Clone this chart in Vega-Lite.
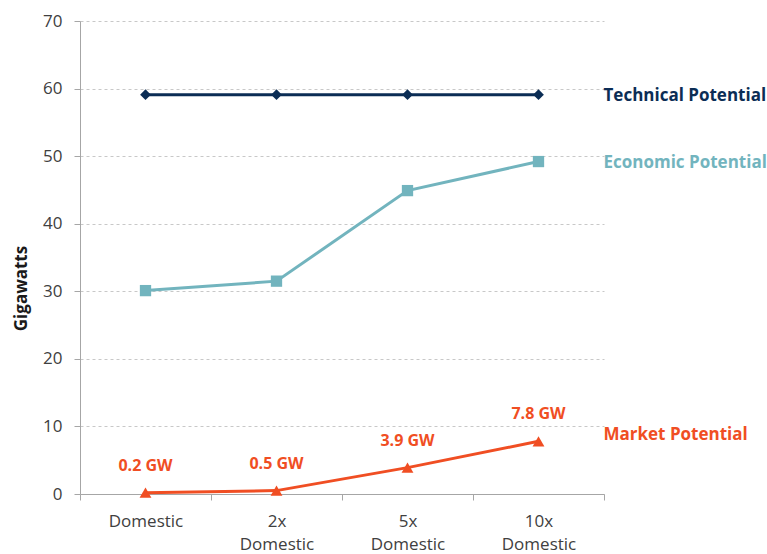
{
  "$schema": "https://vega.github.io/schema/vega-lite/v6.json",
  "width": 524,
  "height": 473,
  "autosize": "none",
  "padding": {"left": 80, "top": 21, "right": 163, "bottom": 60},
  "background": "white",
  "config": {"view": {"stroke": null}, "font": "Open Sans"},
  "data": {
    "values": [
      {"series": "Technical", "category": "Domestic", "value": 59.1, "label": ""},
      {"series": "Technical", "category": "2x Domestic", "value": 59.1, "label": ""},
      {"series": "Technical", "category": "5x Domestic", "value": 59.1, "label": ""},
      {"series": "Technical", "category": "10x Domestic", "value": 59.1, "label": ""},
      {"series": "Economic", "category": "Domestic", "value": 30.1, "label": ""},
      {"series": "Economic", "category": "2x Domestic", "value": 31.5, "label": ""},
      {"series": "Economic", "category": "5x Domestic", "value": 44.9, "label": ""},
      {"series": "Economic", "category": "10x Domestic", "value": 49.2, "label": ""},
      {"series": "Market", "category": "Domestic", "value": 0.2, "label": "0.2 GW"},
      {"series": "Market", "category": "2x Domestic", "value": 0.5, "label": "0.5 GW"},
      {"series": "Market", "category": "5x Domestic", "value": 3.9, "label": "3.9 GW"},
      {"series": "Market", "category": "10x Domestic", "value": 7.8, "label": "7.8 GW"}
    ]
  },
  "encoding": {
    "x": {
      "field": "category",
      "type": "nominal",
      "sort": ["Domestic", "2x Domestic", "5x Domestic", "10x Domestic"],
      "scale": {"type": "band", "paddingInner": 0, "paddingOuter": 0},
      "axis": {
        "title": null,
        "labelAngle": 0,
        "tickBand": "extent",
        "labelExpr": "split(datum.label, ' ')",
        "labelFontSize": 17,
        "labelColor": "#404040",
        "labelPadding": 13,
        "labelLineHeight": 23,
        "domainColor": "#A6A6A6",
        "tickColor": "#A6A6A6",
        "tickSize": 6,
        "grid": false
      }
    },
    "y": {
      "field": "value",
      "type": "quantitative",
      "scale": {"domain": [0, 70], "nice": false},
      "axis": {
        "title": "Gigawatts",
        "titleFontSize": 17,
        "titleFontWeight": "bold",
        "titleColor": "#1a1a1a",
        "titlePadding": 12,
        "titleY": 267,
        "values": [0, 10, 20, 30, 40, 50, 60, 70],
        "labelFontSize": 17,
        "labelColor": "#404040",
        "labelPadding": 12,
        "domainColor": "#A6A6A6",
        "tickColor": "#A6A6A6",
        "tickSize": 6,
        "gridColor": "#C8C8C8",
        "gridDash": [3, 3]
      }
    },
    "color": {
      "field": "series",
      "type": "nominal",
      "scale": {"domain": ["Technical", "Economic", "Market"], "range": ["#0B2D55", "#72B4BE", "#F04E23"]},
      "legend": null
    }
  },
  "layer": [
    {"mark": {"type": "line", "strokeWidth": 3}},
    {
      "mark": {"type": "point", "filled": true, "opacity": 1},
      "encoding": {
        "shape": {
          "field": "series",
          "type": "nominal",
          "scale": {"domain": ["Technical", "Economic", "Market"], "range": ["diamond", "square", "triangle-up"]},
          "legend": null
        },
        "size": {
          "field": "series",
          "type": "nominal",
          "scale": {"domain": ["Technical", "Economic", "Market"], "range": [115, 140, 130]},
          "legend": null
        }
      }
    },
    {
      "transform": [{"filter": "datum.series === 'Market'"}],
      "mark": {"type": "text", "dy": -27, "fontWeight": "bold", "fontSize": 16},
      "encoding": {"text": {"field": "label"}}
    },
    {
      "transform": [{"filter": "datum.category === '10x Domestic' && datum.series !== 'Market'"}, {"calculate": "datum.series + ' Potential'", "as": "name"}],
      "mark": {"type": "text", "align": "left", "dx": 65, "dy": 1, "fontWeight": "bold", "fontSize": 17},
      "encoding": {"text": {"field": "name"}}
    },
    {
      "transform": [{"filter": "datum.category === '10x Domestic' && datum.series === 'Market'"}, {"calculate": "datum.series + ' Potential'", "as": "name"}],
      "mark": {"type": "text", "align": "left", "dx": 65, "dy": -6, "fontWeight": "bold", "fontSize": 17},
      "encoding": {"text": {"field": "name"}}
    }
  ]
}
